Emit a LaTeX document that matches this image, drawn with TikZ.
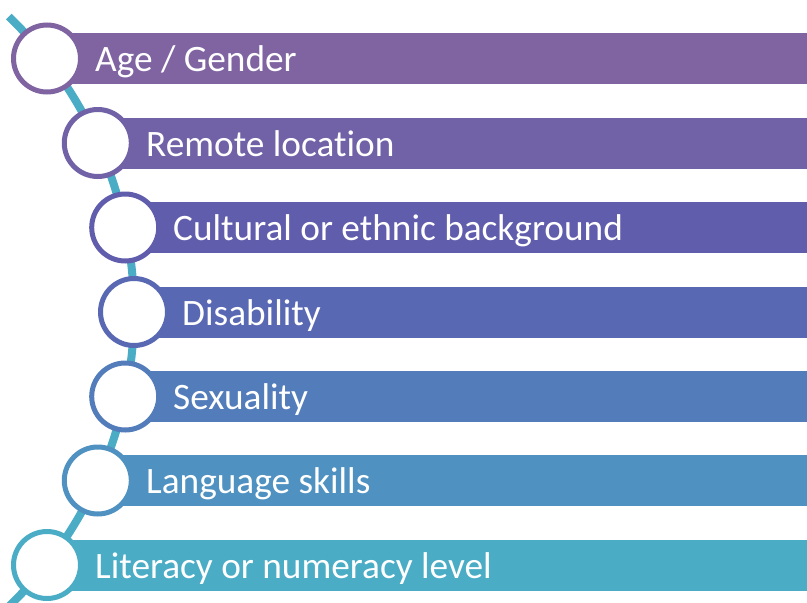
\documentclass[tikz,border=0pt]{standalone}
\usepackage{fontspec}
\setmainfont[Ligatures=NoCommon]{Carlito}
\definecolor{cA}{HTML}{8064A2}
\definecolor{cB}{HTML}{7161A6}
\definecolor{cC}{HTML}{615DAD}
\definecolor{cD}{HTML}{5968B2}
\definecolor{cE}{HTML}{537CBA}
\definecolor{cF}{HTML}{4F91C0}
\definecolor{cG}{HTML}{4BACC6}
\tikzset{
  ring/.style={circle, draw=#1, fill=white, line width=5pt, minimum size=67pt, inner sep=0pt},
  bartext/.style={anchor=base west, inner sep=0pt, text=white, font=\fontsize{37.3}{44}\selectfont},
  spine/.style={draw=cG, line width=8pt}
}
\begin{document}
\begin{tikzpicture}[x=1pt,y=1pt]
\useasboundingbox (0,0) rectangle (807,-603);
\begin{scope}
\clip (0,0) rectangle (807,-603);
% spine arc
\coordinate (arcc) at (-276,-311.5);
\draw[spine] (arcc) ++(46:410) arc[start angle=46, end angle=-46, radius=410];
% bars
\foreach \x/\y/\c [count=\i] in {47/58.5/cA, 97.8/143/cB, 125.2/227.5/cC, 134/312/cD, 125.2/396.5/cE, 97.8/480.5/cF, 47/565/cG}{
  \fill[\c] (\x,-\y+25.5) rectangle (820,-\y-25.5);
}
\end{scope}
% circles
\node[ring=cA] (c1) at (47,-58.5) {};
\node[ring=cB] (c2) at (97.8,-143) {};
\node[ring=cC] (c3) at (125.2,-227.5) {};
\node[ring=cD] (c4) at (134,-312) {};
\node[ring=cE] (c5) at (125.2,-396.5) {};
\node[ring=cF] (c6) at (97.8,-480.5) {};
\node[ring=cG] (c7) at (47,-565) {};
% texts
\node[bartext] (t1) at (95,-71.5) {Age / Gender};
\node[bartext] (t2) at (146,-156) {Remote location};
\node[bartext] (t3) at (173,-240.5) {Cultural or ethnic background};
\node[bartext] (t4) at (182,-325) {Disability};
\node[bartext] (t5) at (173,-409.5) {Sexuality};
\node[bartext] (t6) at (146,-493.5) {Language skills};
\node[bartext] (t7) at (95,-578) {Literacy or numeracy level};
\end{tikzpicture}
\end{document}
